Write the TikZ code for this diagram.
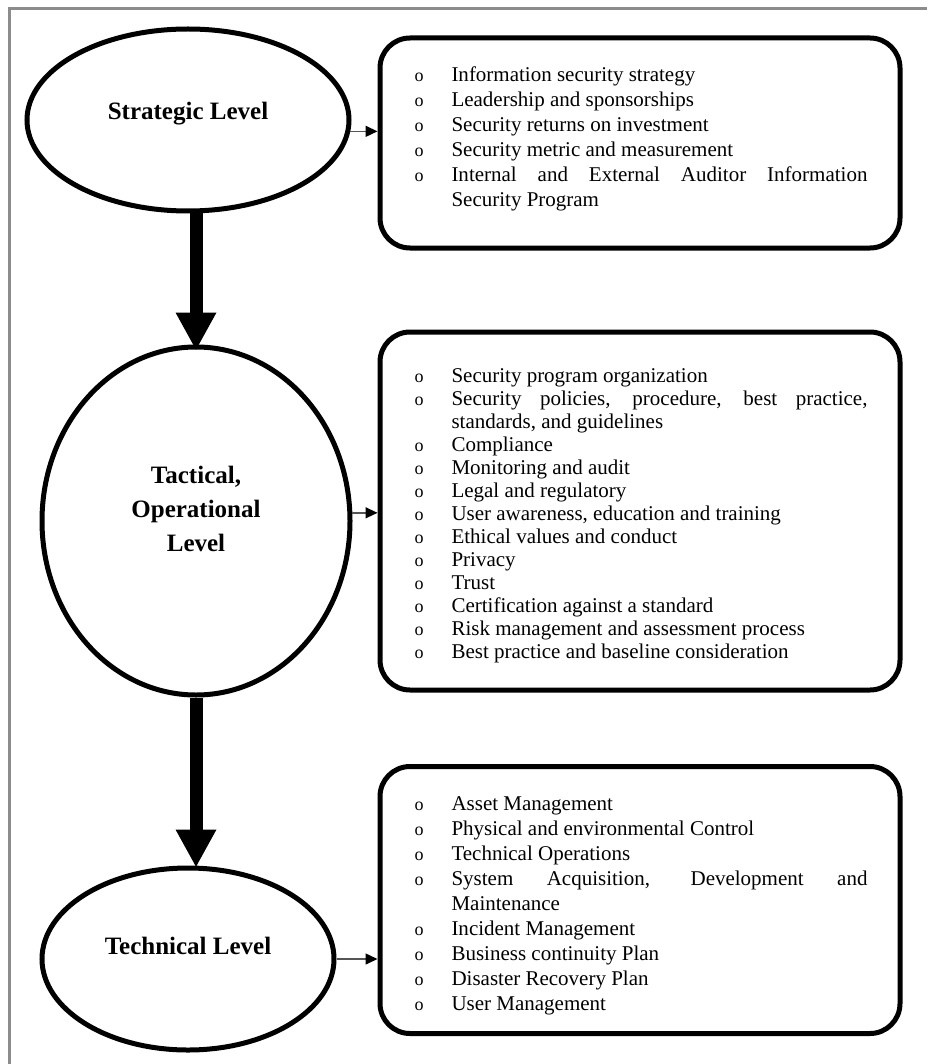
\documentclass[tikz,border=0pt]{standalone}
\usepackage{fontspec}
\setmainfont{Liberation Serif}
\usetikzlibrary{shapes.geometric,arrows.meta}
\definecolor{frameGray}{RGB}{140,140,140}
\definecolor{linkGray}{RGB}{85,85,85}

% one bullet line of a list box
\newcommand{\li}{\par\hangindent=19.5pt\hangafter=1\noindent\hbox to 19.5pt{\hskip1pt{\small o}\hfil}}

\tikzset{
  level/.style={ellipse,draw,line width=2.5pt,inner sep=0pt,align=center,font=\bfseries\fontsize{12.5}{17}\selectfont},
  listbox/.style={draw,line width=2.5pt,rounded corners=15pt,minimum width=260pt,text width=227.5pt,inner xsep=16.25pt,align=justify,font=\fontsize{10.5}{12.5}\selectfont},
  bigarrow/.style={line width=6.5pt,-{Triangle[length=19pt,width=19pt]}},
  linkarrow/.style={draw=linkGray,line width=0.75pt,-{Triangle[length=6pt,width=5.5pt,color=black]}}
}

\begin{document}
\begin{tikzpicture}[x=0.5pt,y=-0.5pt]
\useasboundingbox (0,0) rectangle (927,1064);
\draw[frameGray,line width=1.5pt] (927,9) -- (9,9) -- (9,1064);

% levels
\node[level,minimum width=161pt,minimum height=91pt,text depth=9pt] (strat) at (188,120) {Strategic Level};
\node[level,minimum width=154pt,minimum height=174pt,text depth=12pt] (tact) at (196,521) {Tactical,\\Operational\\Level};
\node[level,minimum width=146pt,minimum height=91pt,text depth=13pt] (tech) at (188,959) {Technical Level};

% lists
\node[listbox,minimum height=105pt] (stratlist) at (640,143) {
\li Information security strategy
\li Leadership and sponsorships
\li Security returns on investment
\li Security metric and measurement
\li Internal and External Auditor Information\linebreak Security Program\par\kern9pt
};
\node[listbox,minimum height=179pt,font=\fontsize{10.5}{11.5}\selectfont] (tactlist) at (640,511) {
\li Security program organization
\li Security policies, procedure, best practice,\linebreak standards, and guidelines
\li Compliance
\li Monitoring and audit
\li Legal and regulatory
\li User awareness, education and training
\li Ethical values and conduct
\li Privacy
\li Trust
\li Certification against a standard
\li Risk management and assessment process
\li Best practice and baseline consideration
};
\node[listbox,minimum height=133.5pt] (techlist) at (640,900) {
\li Asset Management
\li Physical and environmental Control
\li Technical Operations
\li System Acquisition, Development and\linebreak Maintenance
\li Incident Management
\li Business continuity Plan
\li Disaster Recovery Plan
\li User Management
};

% connectors
\draw[bigarrow] (tact.north |- strat.south) -- ([yshift=-3pt]tact.north);
\draw[bigarrow] (tact.south) -- ([yshift=-1pt]tact.south |- tech.north);
\draw[linkarrow] (strat.-4) -- (strat.-4 -| stratlist.west);
\draw[linkarrow] (tact.3) -- (tact.3 -| tactlist.west);
\draw[linkarrow] (tech.east) -- (tech.east -| techlist.west);
\end{tikzpicture}
\end{document}
